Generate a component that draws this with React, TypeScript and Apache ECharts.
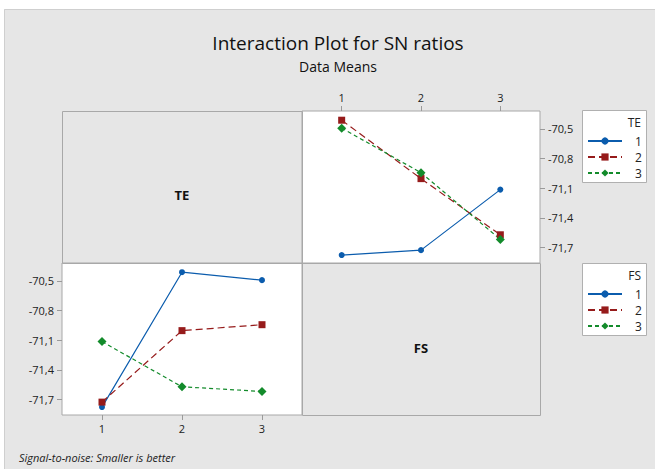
import React, { useEffect, useRef } from "react";
import * as echarts from "echarts";

// Factor levels (x categories)
const levels = ["1", "2", "3"];
// Y tick values
const yTicks = [-71.7, -71.4, -71.1, -70.8, -70.5];

// Top-right panel: x = FS level, one line per TE level
const teLine1 = [-71.775, -71.725, -71.114];
const teLine2 = [-70.413, -71.003, -71.57];
const teLine3 = [-70.493, -70.943, -71.617];

// Bottom-left panel: x = TE level, one line per FS level
const fsLine1 = [-71.775, -70.413, -70.493];
const fsLine2 = [-71.725, -71.003, -70.943];
const fsLine3 = [-71.114, -71.57, -71.617];

const seriesNames = ["1", "2", "3"];
const colors = ["#0b5cad", "#961b1b", "#138b2b"];
const symbols = ["circle", "rect", "diamond"];
const symbolSizes = [6, 7, 9];
const dashes: any[] = ["solid", [7, 4], [4, 3]];

const FONT = "'Open Sans', 'Noto Sans', sans-serif";

export default function App() {
  const ref = useRef<HTMLDivElement>(null);
  useEffect(() => {
    document.body.style.margin = "0";
    const chart = echarts.init(ref.current!, null, { renderer: "svg" });

    const yMin = -71.855;
    const yMax = -70.32;
    const fmt = (v: number) => v.toFixed(1).replace(".", ",");

    const mkY = (gridIndex: number, position: string) => ({
      type: "value",
      gridIndex,
      position,
      min: yMin,
      max: yMax,
      splitLine: { show: false },
      axisLine: { show: false },
      axisTick: {
        show: true,
        length: 5,
        customValues: yTicks,
        lineStyle: { color: "#9a9a9a" },
      },
      axisLabel: {
        customValues: yTicks,
        formatter: fmt,
        color: "#222",
        fontSize: 11,
        fontFamily: FONT,
        margin: 8,
      },
    });
    const mkX = (gridIndex: number, position: string) => ({
      type: "category",
      gridIndex,
      position,
      data: levels,
      boundaryGap: true,
      splitLine: { show: false },
      axisLine: { show: false },
      axisTick: {
        show: true,
        alignWithLabel: true,
        length: 5,
        lineStyle: { color: "#9a9a9a" },
      },
      axisLabel: {
        color: "#222",
        fontSize: 11,
        fontFamily: FONT,
        margin: 8,
      },
    });

    const teData = [teLine1, teLine2, teLine3];
    const fsData = [fsLine1, fsLine2, fsLine3];
    const mkSeries = (prefix: string, data: number[][], idx: number) =>
      data.map((d, i) => ({
        type: "line",
        name: prefix + " " + seriesNames[i],
        xAxisIndex: idx,
        yAxisIndex: idx,
        data: d,
        symbol: symbols[i],
        symbolSize: symbolSizes[i],
        showAllSymbol: true,
        color: colors[i],
        itemStyle: { color: colors[i] },
        lineStyle: { color: colors[i], width: 1.2, type: dashes[i] },
      }));

    const legendBase = {
      orient: "vertical",
      left: 587,
      padding: 0,
      itemWidth: 34,
      itemHeight: 9,
      itemGap: 2,
      formatter: (n: string) => "{t|" + n.split(" ")[1] + "}",
      textStyle: {
        fontSize: 12,
        lineHeight: 14,
        color: "#222",
        fontFamily: FONT,
        rich: {
          t: {
            color: "#222",
            fontSize: 12,
            fontFamily: FONT,
            padding: [0, 0, 0, 8],
          },
        },
      },
      selectedMode: false,
    };

    chart.setOption({
      animation: false,
      backgroundColor: "#e6e6e6",
      title: [
        {
          text: "Interaction Plot for SN ratios",
          left: 333,
          top: 28,
          textAlign: "center",
          textStyle: {
            fontSize: 19,
            fontWeight: "normal",
            color: "#111",
            fontFamily: FONT,
          },
        },
        {
          text: "Data Means",
          left: 333,
          top: 54,
          textAlign: "center",
          textStyle: {
            fontSize: 14,
            fontWeight: "normal",
            color: "#111",
            fontFamily: FONT,
          },
        },
      ],
      grid: [
        {
          left: 302,
          top: 111,
          width: 238,
          height: 152,
          show: true,
          backgroundColor: "#ffffff",
          borderColor: "#a8a8a8",
          borderWidth: 1,
        },
        {
          left: 62,
          top: 263,
          width: 240,
          height: 152,
          show: true,
          backgroundColor: "#ffffff",
          borderColor: "#a8a8a8",
          borderWidth: 1,
        },
      ],
      xAxis: [mkX(0, "top"), mkX(1, "bottom")],
      yAxis: [mkY(0, "right"), mkY(1, "left")],
      legend: [
        {
          ...legendBase,
          top: 134,
          data: seriesNames.map((n) => "TE " + n),
        },
        {
          ...legendBase,
          top: 287,
          data: seriesNames.map((n) => "FS " + n),
        },
      ],
      series: [...mkSeries("TE", teData, 0), ...mkSeries("FS", fsData, 1)],
      graphic: [
        // white margins at top and left
        { type: "rect", shape: { x: 0, y: 0, width: 655, height: 9 }, style: { fill: "#fff" }, silent: true },
        { type: "rect", shape: { x: 0, y: 0, width: 4, height: 469 }, style: { fill: "#fff" }, silent: true },
        { type: "line", shape: { x1: 4.5, y1: 9.5, x2: 655, y2: 9.5 }, style: { stroke: "#cfcfcf", lineWidth: 1 }, silent: true },
        { type: "line", shape: { x1: 4.5, y1: 9.5, x2: 4.5, y2: 469 }, style: { stroke: "#cfcfcf", lineWidth: 1 }, silent: true },
        // gray label panels
        { type: "rect", shape: { x: 62.5, y: 111.5, width: 240, height: 152 }, style: { fill: "transparent", stroke: "#a8a8a8", lineWidth: 1 }, silent: true },
        { type: "rect", shape: { x: 302.5, y: 263.5, width: 238, height: 152 }, style: { fill: "transparent", stroke: "#a8a8a8", lineWidth: 1 }, silent: true },
        { type: "text", x: 182, y: 195, style: { text: "TE", fill: "#111", font: `bold 13px ${FONT}`, textAlign: "center", textVerticalAlign: "middle" }, silent: true },
        { type: "text", x: 421, y: 348, style: { text: "FS", fill: "#111", font: `bold 13px ${FONT}`, textAlign: "center", textVerticalAlign: "middle" }, silent: true },
        // legend boxes
        { type: "rect", z: -1, shape: { x: 582.5, y: 110.5, width: 64, height: 72 }, style: { fill: "#fff", stroke: "#b0b0b0", lineWidth: 1 }, silent: true },
        { type: "rect", z: -1, shape: { x: 582.5, y: 263.5, width: 64, height: 72 }, style: { fill: "#fff", stroke: "#b0b0b0", lineWidth: 1 }, silent: true },
        { type: "text", x: 641, y: 122, style: { text: "TE", fill: "#222", font: `12px ${FONT}`, textAlign: "right", textVerticalAlign: "middle" }, silent: true },
        { type: "text", x: 641, y: 275, style: { text: "FS", fill: "#222", font: `12px ${FONT}`, textAlign: "right", textVerticalAlign: "middle" }, silent: true },
        // footnote
        { type: "text", x: 19, y: 457, style: { text: "Signal-to-noise: Smaller is better", fill: "#222", font: `italic 11px ${FONT}`, textVerticalAlign: "middle" }, silent: true },
      ],
    });
    return () => chart.dispose();
  }, []);
  return <div ref={ref} style={{ width: 655, height: 469 }} />;
}
